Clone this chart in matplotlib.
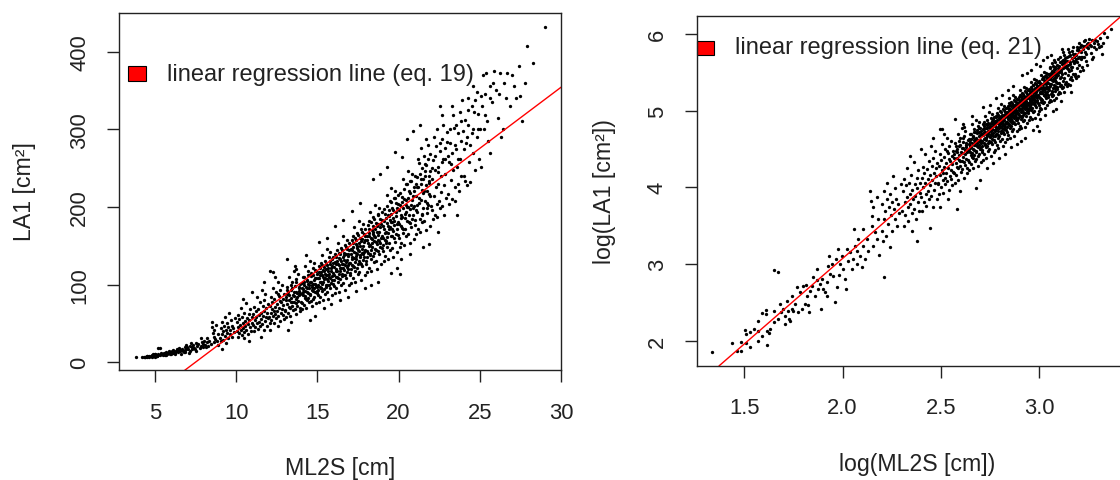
import numpy as np
import matplotlib
matplotlib.use("Agg")
from matplotlib import pyplot as plt
from matplotlib.patches import Rectangle

plt.rcParams['font.family'] = ['Liberation Sans', 'DejaVu Sans']

# (ML2S [cm], LA1 [cm²]) pairs, grouped along ML2S
tail_pts = [
    (3.81, 6.35), (4.20, 7.15), (4.31, 6.44), (4.40, 7.29), (4.41, 6.44), (4.50, 8.49),
    (4.51, 8.06), (4.51, 7.2), (4.61, 6.77), (4.61, 8.31), (4.72, 8.6), (4.81, 8.4),
    (4.81, 9.5), (4.81, 7.4), (4.90, 7.9), (4.90, 10.6), (5.0, 11.0), (5.0, 10.5),
    (5.02, 8.4), (5.02, 7.0), (5.09, 8.2), (5.1, 8.6), (5.21, 9.4), (5.21, 10.9),
    (5.21, 18.5), (5.31, 18.2), (5.33, 9.8), (5.37, 11.9), (5.40, 10.7), (5.46, 11.2),
    (5.51, 10.2), (5.51, 9.2), (5.58, 12.4), (5.61, 10.9), (5.64, 9.8), (5.65, 9.6),
    (5.70, 11.2), (5.70, 13.3), (5.75, 10.9), (5.80, 11.9), (5.85, 14.8), (5.90, 10.8),
    (5.95, 13.9), (6.0, 11.2), (6.05, 15.1), (6.10, 11.9), (6.13, 15.2), (6.16, 13.3),
    (6.21, 11.7), (6.24, 10.7), (6.26, 14.2), (6.31, 15.1), (6.37, 16.9), (6.42, 13.3),
    (6.48, 16.2), (6.49, 18.8), (6.53, 14.5), (6.59, 15.5), (6.61, 11.2), (6.65, 16.5),
    (6.70, 14.5), (6.76, 13.9), (6.82, 15.8), (6.84, 13.3), (6.87, 19.6), (6.91, 22.4),
    (6.93, 17.6), (6.99, 20.1), (7.05, 17.2), (7.11, 12.2), (7.14, 21.4), (7.17, 14.8),
    (7.23, 24.4), (7.25, 17.3), (7.29, 20.1), (7.36, 22.4), (7.42, 18.8), (7.48, 16.5),
    (7.52, 14.5), (7.55, 24.4), (7.61, 21.0), (7.67, 23.4), (7.74, 18.8), (7.81, 21.4),
    (7.83, 31.7), (7.87, 25.5), (7.94, 20.1), (7.96, 23.8), (8.0, 27.8), (8.08, 22.4),
    (8.14, 19.2), (8.18, 31.7), (8.21, 25.5), (8.28, 21.4), (8.35, 27.8), (8.42, 23.9),
    (8.49, 52.3), (8.52, 45.9), (8.57, 37.7), (8.64, 42.1), (8.6, 33.0), (8.64, 25.5),
    (8.71, 30.4), (8.78, 47.9), (8.80, 27.9), (8.86, 36.1), (8.89, 22.6),
]

band_09_12 = [
    (9.02, 31), (9.05, 44), (9.08, 27), (9.11, 52), (9.14, 36), (9.18, 40), (9.21, 29),
    (9.25, 47), (9.28, 58), (9.31, 34), (9.35, 42), (9.38, 25), (9.42, 50), (9.45, 38),
    (9.49, 45), (9.52, 31), (9.56, 63), (9.6, 41), (9.63, 36), (9.67, 54), (9.71, 47),
    (9.75, 33), (9.8, 44), (9.86, 39), (9.93, 57), (9.1, 17),
    (10.02, 40), (10.05, 52), (10.08, 33), (10.1, 61), (10.13, 45), (10.17, 38), (10.2, 56),
    (10.23, 48), (10.27, 70), (10.3, 42), (10.33, 35), (10.37, 58), (10.4, 50), (10.43, 44),
    (10.47, 64), (10.5, 39), (10.53, 53), (10.57, 47), (10.6, 76), (10.63, 41), (10.67, 57),
    (10.7, 49), (10.73, 36), (10.77, 62), (10.8, 54), (10.83, 45), (10.87, 68), (10.9, 40),
    (10.94, 58), (10.97, 51), (10.8, 27), (10.5, 31), (10.4, 82),
    (11.02, 48), (11.05, 62), (11.08, 40), (11.11, 71), (11.14, 55), (11.17, 45), (11.2, 66),
    (11.23, 58), (11.26, 84), (11.29, 50), (11.32, 43), (11.35, 69), (11.38, 61), (11.41, 52),
    (11.44, 77), (11.47, 47), (11.5, 64), (11.53, 56), (11.56, 93), (11.59, 49), (11.62, 72),
    (11.65, 60), (11.68, 42), (11.71, 80), (11.74, 66), (11.77, 53), (11.8, 88), (11.83, 58),
    (11.86, 70), (11.89, 63), (11.92, 47), (11.95, 75), (11.98, 57), (11.5, 32), (11.7, 104),
    (11.0, 90),
]

band_12_15 = [
    (12.02, 58), (12.05, 72), (12.08, 50), (12.11, 84), (12.14, 64), (12.17, 55), (12.2, 78),
    (12.23, 68), (12.26, 96), (12.29, 60), (12.32, 51), (12.35, 81), (12.38, 71), (12.41, 62),
    (12.44, 90), (12.47, 57), (12.5, 75), (12.53, 66), (12.56, 104), (12.59, 59), (12.62, 85),
    (12.65, 70), (12.68, 53), (12.71, 93), (12.74, 77), (12.77, 63), (12.8, 100), (12.83, 68),
    (12.86, 82), (12.89, 74), (12.92, 56), (12.95, 88), (12.98, 67), (12.1, 42), (12.4, 110),
    (12.6, 47), (12.85, 61), (12.3, 66), (12.7, 79), (12.55, 88), (12.28, 116), (12.1, 117),
    (13.02, 66), (13.05, 84), (13.08, 58), (13.11, 97), (13.14, 75), (13.17, 64), (13.2, 90),
    (13.23, 80), (13.26, 110), (13.29, 70), (13.32, 60), (13.35, 93), (13.38, 83), (13.41, 72),
    (13.44, 104), (13.47, 67), (13.5, 87), (13.53, 77), (13.56, 118), (13.59, 69), (13.62, 98),
    (13.65, 81), (13.68, 62), (13.71, 107), (13.74, 89), (13.77, 73), (13.8, 114), (13.83, 79),
    (13.86, 95), (13.89, 86), (13.92, 66), (13.95, 101), (13.98, 78), (13.1, 133), (13.4, 52),
    (13.6, 124), (13.9, 70), (13.15, 88), (13.45, 95), (13.7, 76), (13.25, 71), (13.55, 85),
    (13.85, 92), (13.35, 78), (13.65, 91), (13.2, 41), (13.7, 120),
    (14.02, 76), (14.05, 96), (14.08, 68), (14.11, 110), (14.14, 86), (14.17, 74), (14.2, 103),
    (14.23, 92), (14.26, 124), (14.29, 81), (14.32, 70), (14.35, 106), (14.38, 95), (14.41, 83),
    (14.44, 117), (14.47, 77), (14.5, 99), (14.53, 88), (14.56, 131), (14.59, 79), (14.62, 111),
    (14.65, 93), (14.68, 72), (14.71, 121), (14.74, 101), (14.77, 84), (14.8, 128), (14.83, 90),
    (14.86, 108), (14.89, 98), (14.92, 76), (14.95, 114), (14.98, 89), (14.55, 54), (14.85, 60),
    (14.3, 138), (14.15, 99), (14.45, 89), (14.7, 82), (14.25, 85), (14.6, 104), (14.9, 118),
    (14.4, 101), (14.75, 112), (14.1, 91), (14.35, 80), (14.65, 97), (14.95, 92), (14.5, 112),
    (14.8, 95),
]

band_15_18 = [
    (15.02, 86), (15.05, 109), (15.08, 78), (15.11, 124), (15.14, 97), (15.17, 84), (15.2, 116),
    (15.23, 104), (15.26, 138), (15.29, 92), (15.32, 80), (15.35, 119), (15.38, 107), (15.41, 94),
    (15.44, 131), (15.47, 88), (15.5, 112), (15.53, 100), (15.56, 146), (15.59, 90), (15.62, 125),
    (15.65, 105), (15.68, 82), (15.71, 135), (15.74, 114), (15.77, 96), (15.8, 142), (15.83, 102),
    (15.86, 121), (15.89, 111), (15.92, 87), (15.95, 128), (15.98, 101), (15.1, 155), (15.4, 70),
    (15.6, 160), (15.85, 75), (15.15, 103), (15.45, 114), (15.7, 99), (15.25, 95), (15.55, 120),
    (15.9, 133), (15.35, 110), (15.65, 118), (15.05, 93), (15.3, 101), (15.6, 107), (15.95, 115),
    (15.4, 123), (15.75, 127), (15.2, 128), (15.5, 97), (15.8, 109), (15.15, 112),
    (16.02, 98), (16.05, 123), (16.08, 89), (16.11, 139), (16.14, 110), (16.17, 95), (16.2, 131),
    (16.23, 118), (16.26, 154), (16.29, 104), (16.32, 91), (16.35, 134), (16.38, 121), (16.41, 107),
    (16.44, 147), (16.47, 100), (16.5, 127), (16.53, 114), (16.56, 162), (16.59, 102), (16.62, 141),
    (16.65, 119), (16.68, 93), (16.71, 151), (16.74, 129), (16.77, 109), (16.8, 158), (16.83, 116),
    (16.86, 137), (16.89, 125), (16.92, 99), (16.95, 144), (16.98, 115), (16.1, 175), (16.4, 80),
    (16.6, 183), (16.9, 84), (16.15, 117), (16.45, 130), (16.7, 112), (16.25, 108), (16.55, 136),
    (16.95, 128), (16.35, 125), (16.65, 132), (16.05, 106), (16.3, 114), (16.6, 121), (16.85, 146),
    (16.4, 139), (16.75, 140), (16.2, 144), (16.5, 111), (16.8, 123), (16.15, 127),
    (17.02, 112), (17.05, 140), (17.08, 102), (17.11, 158), (17.14, 125), (17.17, 108), (17.2, 149),
    (17.23, 134), (17.26, 174), (17.29, 118), (17.32, 104), (17.35, 152), (17.38, 137), (17.41, 122),
    (17.44, 167), (17.47, 114), (17.5, 144), (17.53, 130), (17.56, 182), (17.59, 116), (17.62, 160),
    (17.65, 135), (17.68, 106), (17.71, 171), (17.74, 146), (17.77, 124), (17.8, 178), (17.83, 132),
    (17.86, 155), (17.89, 142), (17.92, 113), (17.95, 163), (17.98, 131), (17.1, 195), (17.4, 92),
    (17.6, 205), (17.9, 96), (17.15, 133), (17.45, 147), (17.7, 127), (17.25, 123), (17.55, 154),
    (17.95, 145), (17.35, 141), (17.65, 150), (17.05, 120), (17.3, 129), (17.6, 138), (17.85, 165),
    (17.4, 157), (17.75, 159), (17.2, 163), (17.5, 126), (17.8, 139), (17.15, 144),
]

band_18_21 = [
    (18.02, 127), (18.05, 158), (18.08, 116), (18.11, 177), (18.14, 141), (18.17, 122), (18.2, 167),
    (18.23, 151), (18.26, 194), (18.29, 133), (18.32, 118), (18.35, 170), (18.38, 154), (18.41, 137),
    (18.44, 187), (18.47, 129), (18.5, 162), (18.53, 146), (18.56, 203), (18.59, 131), (18.62, 179),
    (18.65, 152), (18.68, 120), (18.71, 191), (18.74, 164), (18.77, 139), (18.8, 199), (18.83, 148),
    (18.86, 174), (18.89, 160), (18.92, 127), (18.95, 183), (18.98, 147), (18.44, 236), (18.85, 242),
    (18.3, 100), (18.7, 104), (18.15, 150), (18.45, 165), (18.7, 143), (18.25, 138), (18.55, 172),
    (18.95, 163), (18.35, 159), (18.65, 168), (18.05, 135), (18.3, 145), (18.6, 155), (18.85, 185),
    (18.4, 176), (18.75, 178), (18.2, 182), (18.5, 141), (18.8, 156), (18.15, 162),
    (19.02, 143), (19.05, 176), (19.08, 131), (19.11, 197), (19.14, 158), (19.17, 137), (19.2, 186),
    (19.23, 168), (19.26, 215), (19.29, 149), (19.32, 133), (19.35, 189), (19.38, 171), (19.41, 153),
    (19.44, 207), (19.47, 145), (19.5, 180), (19.53, 163), (19.56, 224), (19.59, 147), (19.62, 199),
    (19.65, 169), (19.68, 135), (19.71, 212), (19.74, 182), (19.77, 155), (19.8, 220), (19.83, 165),
    (19.86, 193), (19.89, 178), (19.92, 142), (19.95, 204), (19.98, 164), (19.8, 271), (19.3, 252),
    (19.5, 115), (19.9, 122), (19.15, 167), (19.45, 183), (19.7, 160), (19.25, 154), (19.55, 191),
    (19.95, 181), (19.35, 176), (19.65, 186), (19.05, 151), (19.3, 161), (19.6, 172), (19.85, 205),
    (19.4, 196),
    (20.02, 160), (20.05, 196), (20.08, 148), (20.11, 218), (20.14, 176), (20.17, 154), (20.2, 206),
    (20.23, 187), (20.26, 236), (20.29, 167), (20.32, 151), (20.35, 210), (20.38, 191), (20.41, 171),
    (20.44, 229), (20.47, 163), (20.5, 200), (20.53, 182), (20.56, 246), (20.59, 165), (20.62, 220),
    (20.65, 189), (20.68, 153), (20.71, 234), (20.74, 203), (20.77, 174), (20.8, 242), (20.83, 184),
    (20.86, 214), (20.89, 198), (20.92, 159), (20.95, 226), (20.98, 183), (20.1, 114), (20.12, 133),
    (20.9, 298), (20.5, 287), (20.2, 264), (20.7, 140), (20.15, 186), (20.45, 203), (20.7, 179),
    (20.25, 172), (20.55, 212), (20.95, 201),
]

band_21_24 = [
    (21.02, 177), (21.05, 214), (21.08, 165), (21.11, 238), (21.14, 194), (21.17, 171), (21.2, 225),
    (21.23, 205), (21.26, 257), (21.29, 185), (21.32, 168), (21.35, 229), (21.38, 209), (21.41, 189),
    (21.44, 250), (21.47, 180), (21.5, 218), (21.53, 199), (21.56, 266), (21.59, 182), (21.62, 240),
    (21.65, 207), (21.68, 170), (21.71, 254), (21.74, 221), (21.77, 192), (21.8, 262), (21.83, 202),
    (21.86, 233), (21.89, 216), (21.92, 176), (21.95, 246), (21.98, 201), (21.3, 305), (21.7, 288),
    (21.5, 148), (21.9, 152), (21.15, 203), (21.45, 222), (21.75, 198),
    (22.03, 196), (22.07, 236), (22.1, 184), (22.14, 260), (22.17, 214), (22.21, 190), (22.24, 247),
    (22.28, 226), (22.31, 279), (22.35, 204), (22.38, 187), (22.42, 251), (22.45, 230), (22.49, 208),
    (22.52, 272), (22.56, 199), (22.59, 240), (22.63, 219), (22.66, 288), (22.7, 201), (22.73, 262),
    (22.77, 228), (22.8, 190), (22.84, 276), (22.87, 243), (22.91, 211), (22.95, 284), (22.55, 330),
    (22.7, 318), (22.4, 168),
    (23.04, 216), (23.09, 258), (23.13, 204), (23.18, 282), (23.22, 235), (23.27, 210), (23.31, 270),
    (23.36, 248), (23.4, 301), (23.45, 225), (23.5, 207), (23.54, 274), (23.59, 252), (23.63, 229),
    (23.68, 295), (23.72, 220), (23.77, 262), (23.82, 240), (23.86, 310), (23.9, 338), (23.3, 330),
    (23.6, 190),
    (21.1, 230), (21.2, 262), (21.3, 243), (21.4, 276), (21.5, 236), (21.6, 255), (21.7, 228),
    (21.8, 280), (21.9, 240), (21.95, 268),
    (22.05, 250), (22.15, 290), (22.25, 265), (22.35, 300), (22.45, 245), (22.55, 282), (22.65, 258),
    (22.75, 305), (22.85, 262), (22.95, 296),
    (23.05, 265), (23.15, 300), (23.25, 255), (23.35, 318), (23.45, 280), (23.55, 305), (23.65, 262),
    (23.75, 322), (23.85, 285), (23.95, 298),
]

# the dense middle of the cloud, where the dots merge
core_pts = [
    (13.05, 80), (13.15, 93), (13.25, 86), (13.35, 100), (13.45, 77), (13.55, 91), (13.65, 104),
    (13.75, 84), (13.85, 97), (13.95, 89),
    (14.03, 88), (14.08, 102), (14.13, 94), (14.18, 110), (14.22, 83), (14.27, 97), (14.33, 105),
    (14.37, 90), (14.42, 112), (14.48, 95), (14.52, 103), (14.57, 86), (14.63, 115), (14.67, 100),
    (14.72, 92), (14.78, 106), (14.82, 119), (14.88, 101), (14.93, 109), (14.97, 97),
    (15.03, 100), (15.07, 116), (15.12, 108), (15.16, 121), (15.21, 96), (15.27, 112), (15.31, 125),
    (15.36, 104), (15.42, 118), (15.46, 109), (15.51, 127), (15.57, 113), (15.61, 99), (15.66, 122),
    (15.72, 110), (15.76, 130), (15.81, 117), (15.87, 106), (15.91, 124), (15.96, 136),
    (16.03, 113), (16.07, 129), (16.12, 120), (16.16, 136), (16.21, 110), (16.27, 126), (16.31, 141),
    (16.36, 118), (16.42, 133), (16.46, 122), (16.51, 145), (16.57, 127), (16.61, 113), (16.66, 138),
    (16.72, 125), (16.76, 149), (16.81, 132), (16.87, 120), (16.91, 140), (16.96, 153),
    (17.03, 128), (17.07, 146), (17.12, 136), (17.16, 153), (17.21, 124), (17.27, 142), (17.31, 160),
    (17.36, 133), (17.42, 150), (17.46, 139), (17.51, 164), (17.57, 143), (17.61, 128), (17.66, 156),
    (17.72, 141), (17.76, 168), (17.81, 150), (17.87, 136), (17.91, 158), (17.96, 172),
    (18.03, 143), (18.07, 163), (18.12, 153), (18.16, 171), (18.21, 139), (18.27, 160), (18.31, 180),
    (18.36, 149), (18.42, 168), (18.46, 156), (18.51, 185), (18.57, 161), (18.61, 144), (18.66, 175),
    (18.72, 158), (18.76, 190), (18.81, 168), (18.87, 153), (18.91, 178), (18.96, 194),
    (19.03, 160), (19.07, 182), (19.12, 171), (19.16, 191), (19.21, 156), (19.27, 179), (19.31, 201),
    (19.36, 167), (19.42, 188), (19.46, 174), (19.51, 206), (19.57, 180), (19.61, 162), (19.66, 196),
    (19.72, 177), (19.76, 211), (19.81, 188), (19.87, 171), (19.91, 199), (19.96, 215),
    (20.03, 178), (20.08, 203), (20.13, 190), (20.18, 213), (20.23, 173), (20.28, 199), (20.33, 223),
    (20.38, 186), (20.43, 209), (20.48, 194), (20.53, 229), (20.58, 200), (20.63, 181), (20.68, 218),
    (20.73, 197), (20.78, 234), (20.83, 209), (20.88, 190), (20.93, 221), (20.98, 240),
    (21.05, 196), (21.15, 225), (21.25, 211), (21.35, 236), (21.45, 191), (21.55, 220), (21.65, 246),
    (21.75, 205), (21.85, 231), (21.95, 214),
]

upper_pts = [
    (24.05, 240), (24.12, 282), (24.2, 228), (24.27, 305), (24.35, 258), (24.42, 232), (24.5, 295),
    (24.57, 270), (24.65, 322), (24.72, 248), (24.8, 348), (24.87, 300), (24.95, 262), (24.3, 340),
    (24.6, 356), (24.1, 234),
    (24.0, 275), (24.1, 312), (24.2, 290), (24.3, 325), (24.4, 280), (24.5, 330), (24.6, 300),
    (24.7, 338), (24.8, 290), (24.9, 320),
    (25.1, 251), (25.25, 300), (25.4, 372), (25.5, 285), (25.6, 270), (25.75, 335), (25.9, 375),
    (25.2, 370), (25.65, 355), (25.35, 318), (25.1, 343),
    (25.0, 300), (25.15, 330), (25.3, 345), (25.45, 310), (25.6, 340), (25.8, 360),
    (26.1, 315), (26.2, 345), (26.4, 300), (26.5, 360), (26.7, 372), (26.85, 330), (26.3, 290),
    (26.0, 350), (26.25, 372), (26.6, 340),
    (27.0, 370), (27.2, 340), (27.4, 382), (27.5, 343), (27.6, 310), (27.1, 355),
    (27.9, 407), (28.3, 385), (29.0, 432), (27.8, 360),
]

# regression lines: LA1 = a + b*ML2S ; log(LA1) = c + d*log(ML2S)
eq19_a, eq19_b = -117.6, 15.72
eq21_c, eq21_d = -1.386, 2.229

pts = np.array(tail_pts + band_09_12 + band_12_15 + band_15_18 + band_18_21 + band_21_24
               + core_pts + upper_pts)
ml2s = pts[:, 0]
la1 = pts[:, 1]

fs_tick = 15.8
fs_lab = 16.7
fs_leg = 17
ink = '#222222'
W, H = 1120, 481
fig = plt.figure(figsize=(W / 100, H / 100), dpi=100)

ax1 = fig.add_axes([119 / W, 1 - 371 / H, 442 / W, 357 / H])
ax2 = fig.add_axes([696.7 / W, 1 - 366.7 / H, 442 / W, 349.7 / H])

ax1.plot(ml2s, la1, 'o', color='black', ms=2.4, mew=0)
ax1.axline((0, eq19_a), slope=eq19_b, color='red', lw=1.0)
ax1.set_xlim(2.78, 30)
ax1.set_ylim(-9.9, 449.6)
ax1.set_xticks([5, 10, 15, 20, 25, 30])
ax1.set_yticks([0, 100, 200, 300, 400])

ax2.plot(np.log(ml2s), np.log(la1), 'o', color='black', ms=2.4, mew=0)
ax2.axline((0, eq21_c), slope=eq21_d, color='red', lw=1.0)
ax2.set_xlim(1.258, 3.506)
ax2.set_ylim(1.674, 6.233)
ax2.set_xticks([1.5, 2.0, 2.5, 3.0])
ax2.set_xticklabels(['1.5', '2.0', '2.5', '3.0'])
ax2.set_yticks([2, 3, 4, 5, 6])

for ax in (ax1, ax2):
    for s in ax.spines.values():
        s.set_linewidth(1.0)
        s.set_color(ink)
    ax.tick_params(axis='both', direction='out', length=8.7, width=1.0, color=ink,
                   labelsize=fs_tick, labelcolor=ink)
    ax.tick_params(axis='x', pad=14)
    ax.tick_params(axis='y', pad=12, labelrotation=90)
    for lab in ax.get_yticklabels():
        lab.set_va('center')

# legend boxes like R's legend(fill=...)
ax1.add_patch(Rectangle((0.0204, 0.810), 0.0407, 0.042, transform=ax1.transAxes,
                        facecolor='red', edgecolor='black', lw=0.8, clip_on=False))
ax1.text(0.1086, 0.8305, 'linear regression line (eq. 19)', transform=ax1.transAxes,
         fontsize=fs_leg, va='center', ha='left', color=ink)
ax2.add_patch(Rectangle((0.0, 0.8885), 0.039, 0.041, transform=ax2.transAxes,
                        facecolor='red', edgecolor='black', lw=0.8, clip_on=False))
ax2.text(0.0867, 0.91, 'linear regression line (eq. 21)', transform=ax2.transAxes,
         fontsize=fs_leg, va='center', ha='left', color=ink)

fig.text(340 / W, 1 - 469 / H, 'ML2S [cm]', ha='center', va='center', fontsize=fs_lab, color=ink)
fig.text(24 / W, 1 - 192 / H, 'LA1 [cm²]', ha='center', va='center', rotation=90,
         fontsize=fs_lab, color=ink)
fig.text(917 / W, 1 - 465 / H, 'log(ML2S [cm])', ha='center', va='center', fontsize=fs_lab,
         color=ink)
fig.text(605 / W, 1 - 192 / H, 'log(LA1 [cm²])', ha='center', va='center', rotation=90,
         fontsize=fs_lab, color=ink)

fig.savefig('out.png', dpi=100, facecolor='white')
